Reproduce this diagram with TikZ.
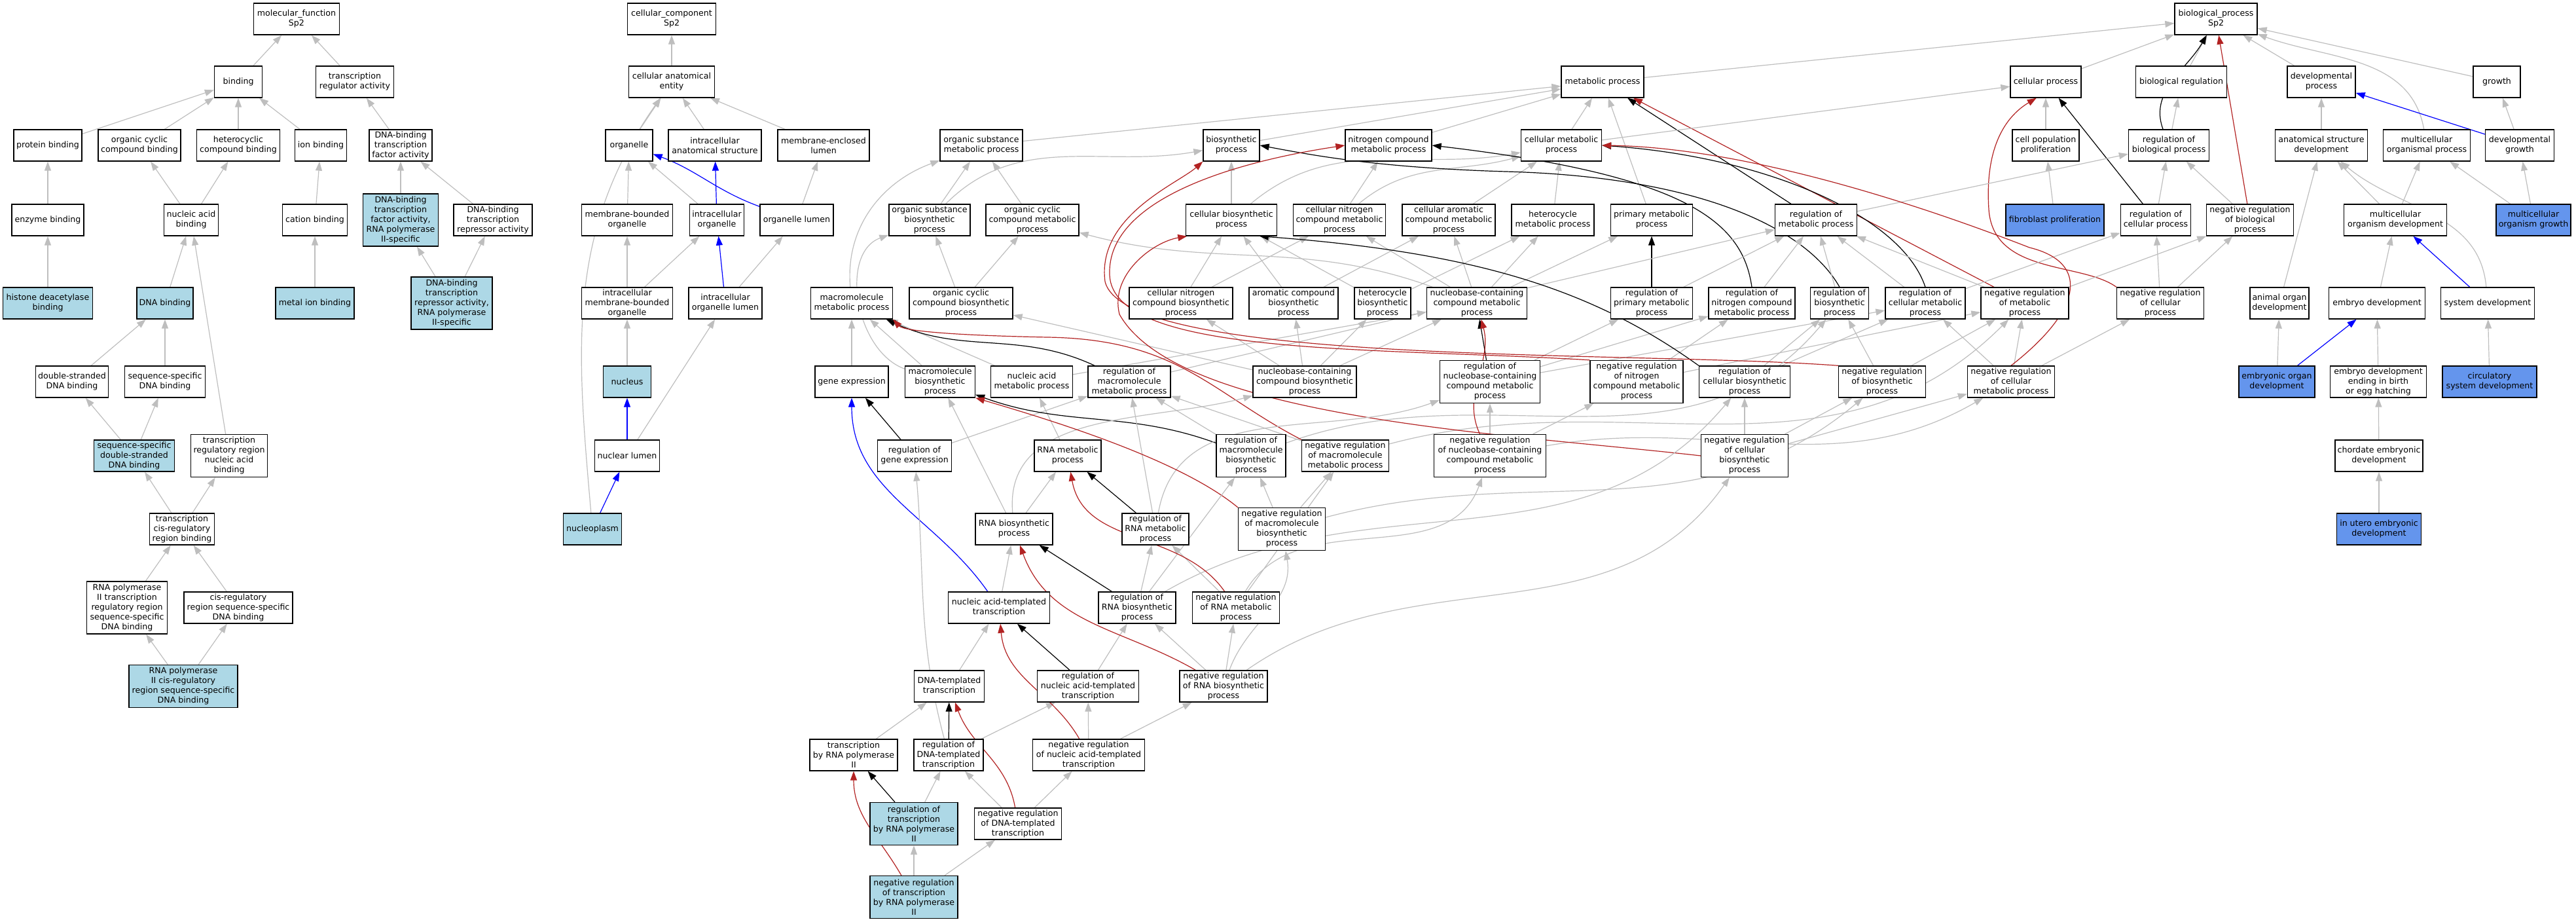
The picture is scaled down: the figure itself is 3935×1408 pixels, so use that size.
\documentclass[tikz,border=0pt]{standalone}
\usepackage{fontspec}
\setmainfont{DejaVu Sans}
\usetikzlibrary{arrows.meta, backgrounds}
\definecolor{edgegray}{RGB}{190,190,190}
\definecolor{hitblue}{RGB}{173,216,230}
\definecolor{hitstrong}{RGB}{100,149,237}
\definecolor{negred}{RGB}{178,34,34}
\newcommand{\termfont}{\fontsize{6.3}{7.5}\selectfont}
\tikzstyle{term} = [rectangle, draw=black, line width=0.65pt, fill=white, align=center, inner sep=1pt, minimum height=24pt, font=\termfont]
\tikzstyle{hit} = [term, fill=hitblue]
\tikzstyle{hitdark} = [term, fill=hitstrong]
\tikzstyle{tall} = [minimum height=32.5pt]
\tikzstyle{taller} = [minimum height=40pt]
\tikzstyle{isa} = [draw=edgegray, line width=0.6pt, -{Triangle[length=7pt,width=5pt]}]
\tikzstyle{regarrow} = [isa, draw=black]
\tikzstyle{negarrow} = [isa, draw=negred]
\tikzstyle{partarrow} = [isa, draw=blue]

\begin{document}
\begin{tikzpicture}[x=0.5pt, y=-0.5pt]
\useasboundingbox (0,0) rectangle (3935,1408);

% molecular function
\node (mf) [term, minimum width=65.5pt] at (453,29) {molecular\_function\\Sp2};
\node (binding) [term, minimum width=36.5pt] at (364,125) {binding};
\node (tra) [term, minimum width=59.5pt] at (542,125) {transcription\\regulator activity};
\node (prot) [term, minimum width=52pt] at (73,222) {protein binding};
\node (occb) [term, minimum width=63pt] at (213,222) {organic cyclic\\compound binding};
\node (hcb) [term, minimum width=63.5pt] at (364,222) {heterocyclic\\compound binding};
\node (ionb) [term, minimum width=39.5pt] at (490,222) {ion binding};
\node (dbtfa) [term, minimum width=48pt] at (612,222) {DNA-binding\\transcription\\factor activity};
\node (enzb) [term, minimum width=55pt] at (73,336) {enzyme binding};
\node (nab) [term, minimum width=41.5pt] at (292,336) {nucleic acid\\binding};
\node (catb) [term, minimum width=49.5pt] at (481,336) {cation binding};
\node (dbtfa2) [hit, taller, minimum width=57.5pt] at (612,336) {DNA-binding\\transcription\\factor activity,\\RNA polymerase\\II-specific};
\node (dbtra) [term, minimum width=60pt] at (753,336) {DNA-binding\\transcription\\repressor activity};
\node (hdb) [hit, minimum width=68.5pt] at (73,463) {histone deacetylase\\binding};
\node (dnab) [hit, minimum width=43pt] at (252,463) {DNA binding};
\node (mib) [hit, minimum width=60pt] at (481,463) {metal ion binding};
\node (dbtra2) [hit, taller, minimum width=62pt] at (690,463) {DNA-binding\\transcription\\repressor activity,\\RNA polymerase\\II-specific};
\node (dsdb) [term, minimum width=55.5pt] at (110,583) {double-stranded\\DNA binding};
\node (ssdb) [term, minimum width=61.5pt] at (252,583) {sequence-specific\\DNA binding};
\node (ssdsdb) [hit, minimum width=61.5pt] at (205,696) {sequence-specific\\double-stranded\\DNA binding};
\node (trrnab) [term, tall, minimum width=58.5pt] at (350,696) {transcription\\regulatory region\\nucleic acid\\binding};
\node (tcrrb) [term, minimum width=49.5pt] at (278,808) {transcription\\cis-regulatory\\region binding};
\node (ptrr) [term, taller, minimum width=61.5pt] at (194,928) {RNA polymerase\\II transcription\\regulatory region\\sequence-specific\\DNA binding};
\node (crrss) [term, minimum width=83pt] at (364,928) {cis-regulatory\\region sequence-specific\\DNA binding};
\node (pcrr) [hit, tall, minimum width=83pt] at (280,1048) {RNA polymerase\\II cis-regulatory\\region sequence-specific\\DNA binding};

% cellular component
\node (cc) [term, minimum width=67.5pt] at (1026,29) {cellular\_component\\Sp2};
\node (cae) [term, minimum width=65.5pt] at (1026,125) {cellular anatomical\\entity};
\node (org) [term, minimum width=36pt] at (961,222) {organelle};
\node (ias) [term, minimum width=71pt] at (1092,222) {intracellular\\anatomical structure};
\node (mel) [term, minimum width=70pt] at (1258,222) {membrane-enclosed\\lumen};
\node (mbo) [term, minimum width=69.5pt] at (958,336) {membrane-bounded\\organelle};
\node (io) [term, minimum width=41.5pt] at (1095,336) {intracellular\\organelle};
\node (ol) [term, minimum width=56pt] at (1217,336) {organelle lumen};
\node (imbo) [term, minimum width=69.5pt] at (958,463) {intracellular\\membrane-bounded\\organelle};
\node (iol) [term, minimum width=56pt] at (1108,463) {intracellular\\organelle lumen};
\node (nucleus) [hit, minimum width=36.5pt] at (958,583) {nucleus};
\node (nl) [term, minimum width=49.5pt] at (958,696) {nuclear lumen};
\node (np) [hit, minimum width=44.5pt] at (905,808) {nucleoplasm};

% biological process
\node (bp) [term, minimum width=63pt] at (3385,29) {biological\_process\\Sp2};
\node (mp) [term, minimum width=63pt] at (2448,125) {metabolic process};
\node (cp) [term, minimum width=54pt] at (3125,125) {cellular process};
\node (breg) [term, minimum width=69.5pt] at (3332,125) {biological regulation};
\node (devp) [term, minimum width=52pt] at (3546,125) {developmental\\process};
\node (growth) [term, minimum width=36pt] at (3814,125) {growth};

\node (osmp) [term, minimum width=63pt] at (1499,222) {organic substance\\metabolic process};
\node (bsp) [term, minimum width=43pt] at (1881,222) {biosynthetic\\process};
\node (nitmp) [term, minimum width=66pt] at (2121,222) {nitrogen compound\\metabolic process};
\node (cmp) [term, minimum width=61.5pt] at (2385,222) {cellular metabolic\\process};
\node (cpp) [term, minimum width=51pt] at (3125,222) {cell population\\proliferation};
\node (rbp) [term, minimum width=61.5pt] at (3313,222) {regulation of\\biological process};
\node (asd) [term, minimum width=70.5pt] at (3546,222) {anatomical structure\\development};
\node (mop) [term, minimum width=66.5pt] at (3707,222) {multicellular\\organismal process};
\node (dg) [term, minimum width=52.5pt] at (3849,222) {developmental\\growth};

\node (osbp) [term, minimum width=62pt] at (1420,336) {organic substance\\biosynthetic\\process};
\node (occmp) [term, minimum width=71pt] at (1577,336) {organic cyclic\\compound metabolic\\process};
\node (cbp) [term, minimum width=69.5pt] at (1881,336) {cellular biosynthetic\\process};
\node (cncmp) [term, minimum width=70.5pt] at (2046,336) {cellular nitrogen\\compound metabolic\\process};
\node (cacmp) [term, minimum width=71pt] at (2213,336) {cellular aromatic\\compound metabolic\\process};
\node (hmp) [term, minimum width=63pt] at (2372,336) {heterocycle\\metabolic process};
\node (pmp) [term, minimum width=62.5pt] at (2523,336) {primary metabolic\\process};
\node (rmp) [term, minimum width=62.5pt] at (2774,336) {regulation of\\metabolic process};
\node (fp) [hitdark, minimum width=75pt] at (3139,336) {fibroblast proliferation};
\node (rcp) [term, minimum width=53.5pt] at (3293,336) {regulation of\\cellular process};
\node (nrbp) [term, minimum width=66.5pt] at (3437,336) {negative regulation\\of biological\\process};
\node (mod) [term, minimum width=78.5pt] at (3659,336) {multicellular\\organism development};
\node (mog) [hitdark, minimum width=57pt] at (3870,336) {multicellular\\organism growth};

\node (mmp) [term, minimum width=62.5pt] at (1301,463) {macromolecule\\metabolic process};
\node (occbp) [term, minimum width=79pt] at (1468,463) {organic cyclic\\compound biosynthetic\\process};
\node (cncbp) [term, minimum width=79pt] at (1804,463) {cellular nitrogen\\compound biosynthetic\\process};
\node (acbp) [term, minimum width=68pt] at (1976,463) {aromatic compound\\biosynthetic\\process};
\node (hbp) [term, minimum width=43pt] at (2112,463) {heterocycle\\biosynthetic\\process};
\node (nccmp) [term, minimum width=76.5pt] at (2256,463) {nucleobase-containing\\compound metabolic\\process};
\node (rpmp) [term, minimum width=62.5pt] at (2523,463) {regulation of\\primary metabolic\\process};
\node (rnmp) [term, minimum width=66pt] at (2676,463) {regulation of\\nitrogen compound\\metabolic process};
\node (rbsp) [term, minimum width=44.5pt] at (2810,463) {regulation of\\biosynthetic\\process};
\node (rcmp) [term, minimum width=61pt] at (2941,463) {regulation of\\cellular metabolic\\process};
\node (nrmp) [term, minimum width=67pt] at (3093,463) {negative regulation\\of metabolic\\process};
\node (nrcp) [term, minimum width=66.5pt] at (3300,463) {negative regulation\\of cellular\\process};
\node (aod) [term, minimum width=45pt] at (3482,463) {animal organ\\development};
\node (ed) [term, minimum width=73.5pt] at (3631,463) {embryo development};
\node (sd) [term, minimum width=71.5pt] at (3800,463) {system development};

\node (ge) [term, minimum width=56pt] at (1301,583) {gene expression};
\node (mbp) [term, minimum width=53.5pt] at (1436,583) {macromolecule\\biosynthetic\\process};
\node (namp) [term, minimum width=62.5pt] at (1576,583) {nucleic acid\\metabolic process};
\node (rmmp) [term, minimum width=63pt] at (1725,583) {regulation of\\macromolecule\\metabolic process};
\node (nccbp) [term, minimum width=79pt] at (1993,583) {nucleobase-containing\\compound biosynthetic\\process};
\node (rnccmp) [term, tall, minimum width=76.5pt] at (2276,583) {regulation of\\nucleobase-containing\\compound metabolic\\process};
\node (nrnmp) [term, tall, minimum width=71pt] at (2500,583) {negative regulation\\of nitrogen\\compound metabolic\\process};
\node (rcbp) [term, minimum width=69.5pt] at (2665,583) {regulation of\\cellular biosynthetic\\process};
\node (nrbsp) [term, minimum width=66.5pt] at (2875,583) {negative regulation\\of biosynthetic\\process};
\node (nrcmp) [term, minimum width=66.5pt] at (3072,583) {negative regulation\\of cellular\\metabolic process};
\node (eod) [hitdark, minimum width=58pt] at (3478,583) {embryonic organ\\development};
\node (edb) [term, minimum width=73.5pt] at (3633,583) {embryo development\\ending in birth\\or egg hatching};
\node (csd) [hitdark, minimum width=72pt] at (3803,583) {circulatory\\system development};

\node (rge) [term, minimum width=56.5pt] at (1397,696) {regulation of\\gene expression};
\node (rnamp) [term, minimum width=51pt] at (1631,696) {RNA metabolic\\process};
\node (rmbp) [term, tall, minimum width=53pt] at (1911,696) {regulation of\\macromolecule\\biosynthetic\\process};
\node (nrmmp) [term, minimum width=66.5pt] at (2055,696) {negative regulation\\of macromolecule\\metabolic process};
\node (nrnccmp) [term, tall, minimum width=85.5pt] at (2276,696) {negative regulation\\of nucleobase-containing\\compound metabolic\\process};
\node (nrcbp) [term, tall, minimum width=66.5pt] at (2665,696) {negative regulation\\of cellular\\biosynthetic\\process};
\node (ced) [term, minimum width=67pt] at (3634,696) {chordate embryonic\\development};

\node (rnabp) [term, minimum width=59pt] at (1549,808) {RNA biosynthetic\\process};
\node (rrmp) [term, minimum width=51pt] at (1765,808) {regulation of\\RNA metabolic\\process};
\node (nrmbp) [term, tall, minimum width=66.5pt] at (1958,808) {negative regulation\\of macromolecule\\biosynthetic\\process};
\node (iued) [hitdark, minimum width=64.5pt] at (3634,808) {in utero embryonic\\development};

\node (natt) [term, minimum width=77.5pt] at (1526,928) {nucleic acid-templated\\transcription};
\node (rrbp) [term, minimum width=59pt] at (1737,928) {regulation of\\RNA biosynthetic\\process};
\node (nrrmp) [term, minimum width=66.5pt] at (1888,928) {negative regulation\\of RNA metabolic\\process};

\node (dtt) [term, minimum width=53.5pt] at (1450,1048) {DNA-templated\\transcription};
\node (rnatt) [term, minimum width=77.5pt] at (1662,1048) {regulation of\\nucleic acid-templated\\transcription};
\node (nrrbp) [term, minimum width=67pt] at (1869,1048) {negative regulation\\of RNA biosynthetic\\process};

\node (tpii) [term, minimum width=67pt] at (1304,1153) {transcription\\by RNA polymerase\\II};
\node (rdtt) [term, minimum width=53pt] at (1449,1153) {regulation of\\DNA-templated\\transcription};
\node (nrnatt) [term, minimum width=85.5pt] at (1663,1153) {negative regulation\\of nucleic acid-templated\\transcription};

\node (rtpii) [hit, tall, minimum width=67pt] at (1396,1258) {regulation of\\transcription\\by RNA polymerase\\II};
\node (nrdtt) [term, minimum width=66.5pt] at (1555,1258) {negative regulation\\of DNA-templated\\transcription};
\node (nrtpii) [hit, tall, minimum width=67pt] at (1396,1370) {negative regulation\\of transcription\\by RNA polymerase\\II};

\begin{scope}[on background layer]
% molecular function edges
\draw [isa] (binding) -- (mf);
\draw [isa] (tra) -- (mf);
\draw [isa] (prot) -- (binding);
\draw [isa] (occb) -- (binding);
\draw [isa] (hcb) -- (binding);
\draw [isa] (ionb) -- (binding);
\draw [isa] (dbtfa) -- (tra);
\draw [isa] (enzb) -- (prot);
\draw [isa] (nab) -- (occb);
\draw [isa] (nab) -- (hcb);
\draw [isa] (catb) -- (ionb);
\draw [isa] (dbtfa2) -- (dbtfa);
\draw [isa] (dbtra) -- (dbtfa);
\draw [isa] (hdb) -- (enzb);
\draw [isa] (dnab) -- (nab);
\draw [isa] (mib) -- (catb);
\draw [isa] (dbtra2) -- (dbtfa2);
\draw [isa] (dbtra2) -- (dbtra);
\draw [isa] (dsdb) -- (dnab);
\draw [isa] (ssdb) -- (dnab);
\draw [isa] (ssdsdb) -- (dsdb);
\draw [isa] (ssdsdb) -- (ssdb);
\draw [isa] (trrnab) -- (nab);
\draw [isa] (tcrrb) -- (ssdsdb);
\draw [isa] (tcrrb) -- (trrnab);
\draw [isa] (ptrr) -- (tcrrb);
\draw [isa] (crrss) -- (tcrrb);
\draw [isa] (pcrr) -- (ptrr);
\draw [isa] (pcrr) -- (crrss);

% cellular component edges
\draw [isa] (cae) -- (cc);
\draw [isa] (org) -- (cae);
\draw [isa] (ias) -- (cae);
\draw [isa] (mel) -- (cae);
\draw [isa] (np) to[out=95, in=235] (cae);
\draw [isa] (mbo) -- (org);
\draw [isa] (io) -- (org);
\draw [partarrow] (io) -- (ias);
\draw [partarrow] (ol) to[out=160, in=-20] (org);
\draw [isa] (ol) -- (mel);
\draw [isa] (imbo) -- (mbo);
\draw [isa] (imbo) -- (io);
\draw [partarrow] (iol) -- (io);
\draw [isa] (iol) -- (ol);
\draw [isa] (nucleus) -- (imbo);
\draw [partarrow] (nl) -- (nucleus);
\draw [isa] (nl) -- (iol);
\draw [partarrow] (np) -- (nl);

% biological process edges
\draw [isa] (mp) -- (bp);
\draw [isa] (cp) -- (bp);
\draw [isa] (breg) -- (bp);
\draw [isa] (devp) -- (bp);
\draw [isa] (growth) -- (bp);
\draw [isa] (mop) to[out=100, in=-20] (bp);
\draw [regarrow] (rbp) to[out=110, in=240] (bp);
\draw [negarrow] (nrbp) -- (bp);
\draw [isa] (osmp) -- (mp);
\draw [isa] (bsp) -- (mp);
\draw [isa] (nitmp) -- (mp);
\draw [isa] (cmp) -- (mp);
\draw [isa] (pmp) -- (mp);
\draw [regarrow] (rmp) -- (mp);
\draw [negarrow] (nrmp) -- (mp);
\draw [isa] (cmp) -- (cp);
\draw [isa] (cpp) -- (cp);
\draw [regarrow] (rcp) -- (cp);
\draw [negarrow] (nrcp.north west) .. controls (3180,400) and (3045,420) .. (3038,320) .. controls (3032,230) and (3060,180) .. (cp.240);
\draw [isa] (rbp) -- (breg);
\draw [isa] (asd) -- (devp);
\draw [partarrow] (dg) -- (devp);
\draw [isa] (dg) -- (growth);
\draw [isa] (osbp) -- (osmp);
\draw [isa] (osbp) to[out=45, in=190] (bsp);
\draw [isa] (occmp) -- (osmp);
\draw [isa] (cbp) -- (bsp);
\draw [isa] (cbp) to[out=40, in=190] (cmp);
\draw [isa] (cncmp) -- (nitmp);
\draw [isa] (cncmp) to[out=40, in=195] (cmp);
\draw [isa] (cacmp) -- (cmp);
\draw [isa] (hmp) -- (cmp);
\draw [isa] (rmp) -- (rbp);
\draw [isa] (rcp) -- (rbp);
\draw [isa] (nrbp) -- (rbp);
\draw [isa] (fp) -- (cpp);
\draw [isa] (mod) -- (asd);
\draw [isa] (mod) -- (mop);
\draw [isa] (mog) -- (dg);
\draw [isa] (mog) -- (mop);
\draw [isa] (mmp) to[out=95, in=200] (osmp);
\draw [isa] (occbp) -- (osbp);
\draw [isa] (occbp) -- (occmp);
\draw [isa] (cncbp) -- (cbp);
\draw [isa] (cncbp) -- (cncmp);
\draw [isa] (acbp) -- (cbp);
\draw [isa] (acbp) -- (cacmp);
\draw [isa] (hbp) -- (cbp);
\draw [isa] (hbp) -- (hmp);
\draw [isa] (nccmp) -- (cncmp);
\draw [isa] (nccmp) -- (cacmp);
\draw [isa] (nccmp) -- (hmp);
\draw [isa] (nccmp) -- (pmp);
\draw [isa] (nccmp) to[out=160, in=-15] (occmp);
\draw [regarrow] (rpmp) -- (pmp);
\draw [regarrow] (rnmp.north) .. controls (2662,340) and (2580,268) .. (nitmp.east);
\draw [regarrow] (rbsp.north) .. controls (2760,350) and (2600,270) .. (2300,262) .. controls (2100,256) and (2000,236) .. (bsp.east);
\draw [regarrow] (rcmp.north) .. controls (2905,330) and (2700,240) .. (cmp.east);
\draw [isa] (rpmp) -- (rmp);
\draw [isa] (rnmp) -- (rmp);
\draw [isa] (rbsp) -- (rmp);
\draw [isa] (rcmp) -- (rmp);
\draw [isa] (nrmp) -- (rmp);
\draw [isa] (rcmp) -- (rcp);
\draw [isa] (nrmp) -- (nrbp);
\draw [isa] (nrcp) -- (rcp);
\draw [isa] (nrcp) -- (nrbp);
\draw [isa] (aod) -- (asd);
\draw [isa] (ed) -- (mod);
\draw [isa] (sd) to[out=95, in=-40] (asd);
\draw [partarrow] (sd) -- (mod);
\draw [isa] (ge) -- (mmp);
\draw [isa] (mbp) -- (mmp);
\draw [isa] (mbp) to[out=160, in=200] (osbp);
\draw [isa] (namp) -- (mmp);
\draw [isa] (namp) -- (nccmp);
\draw [regarrow] (rmmp) to[out=155, in=-25] (mmp);
\draw [isa] (rmmp) -- (rmp);
\draw [isa] (nccbp) -- (cncbp);
\draw [isa] (nccbp) -- (acbp);
\draw [isa] (nccbp) -- (hbp);
\draw [isa] (nccbp) -- (nccmp);
\draw [isa] (nccbp) -- (occbp);
\draw [regarrow] (rnccmp) -- (nccmp);
\draw [isa] (rnccmp) -- (rpmp);
\draw [isa] (rnccmp) -- (rnmp);
\draw [isa] (rnccmp) -- (rcmp);
\draw [isa] (nrnmp) -- (rnmp);
\draw [isa] (nrnmp) -- (nrmp);
\draw [negarrow] (nrnmp.north west) .. controls (2100,530) and (1700,545) .. (1695,420) .. controls (1690,300) and (1900,245) .. (nitmp.west);
\draw [isa] (rcbp) -- (rbsp);
\draw [isa] (rcbp) -- (rcmp);
\draw [regarrow] (rcbp.north west) .. controls (2430,440) and (2250,385) .. (cbp.-30);
\draw [isa] (nrbsp) -- (rbsp);
\draw [isa] (nrbsp) -- (nrmp);
\draw [negarrow] (nrbsp.north west) .. controls (2500,535) and (1720,560) .. (1688,430) .. controls (1675,330) and (1800,280) .. (bsp.south west);
\draw [isa] (nrcmp) -- (nrmp);
\draw [isa] (nrcmp) -- (rcmp);
\draw [isa] (nrcmp) -- (nrcp);
\draw [negarrow] (nrcmp.north) .. controls (3185,470) and (3190,400) .. (3100,378) .. controls (2900,300) and (2650,225) .. (cmp.east);
\draw [isa] (eod) -- (aod);
\draw [partarrow] (eod) -- (ed);
\draw [isa] (edb) -- (ed);
\draw [isa] (csd) -- (sd);
\draw [regarrow] (rge) -- (ge);
\draw [isa] (rge) -- (rmmp);
\draw [isa] (rnamp) -- (namp);
\draw [regarrow] (rmbp) to[out=160, in=-20] (mbp);
\draw [isa] (rmbp) -- (rmmp);
\draw [isa] (rmbp) to[out=20, in=-130] (rbsp);
\draw [isa] (nrmmp) -- (rmmp);
\draw [isa] (nrmmp) to[out=15, in=-135] (nrmp);
\draw [negarrow] (nrmmp.north west) .. controls (1850,600) and (1800,518) .. (1600,515) .. controls (1450,512) and (1380,505) .. (mmp.south east);
\draw [isa] (nrnccmp) -- (rnccmp);
\draw [isa] (nrnccmp) -- (nrnmp);
\draw [isa] (nrnccmp) to[out=10, in=-150] (nrcmp);
\draw [negarrow] (nrnccmp) to[out=115, in=-75] (nccmp);
\draw [isa] (nrcbp) -- (rcbp);
\draw [isa] (nrcbp) -- (nrbsp);
\draw [isa] (nrcbp) -- (nrcmp);
\draw [negarrow] (nrcbp.west) .. controls (2300,662) and (1800,640) .. (1710,480) .. controls (1695,420) and (1760,370) .. (cbp.200);
\draw [isa] (ced) -- (edb);
\draw [isa] (rnabp) -- (rnamp);
\draw [isa] (rnabp) -- (mbp);
\draw [isa] (rnabp) to[out=95, in=195] (nccbp);
\draw [regarrow] (rrmp) -- (rnamp);
\draw [isa] (rrmp) -- (rmmp);
\draw [isa] (rrmp) to[out=80, in=200] (rnccmp);
\draw [isa] (nrmbp) -- (rmbp);
\draw [isa] (nrmbp) -- (nrmmp);
\draw [isa] (nrmbp) to[out=15, in=-140] (nrbsp);
\draw [negarrow] (nrmbp.north west) .. controls (1800,700) and (1600,640) .. (mbp.south east);
\draw [isa] (iued) -- (ced);
\draw [isa] (natt) -- (rnabp);
\draw [partarrow] (natt) to[out=125, in=-90] (ge);
\draw [regarrow] (rrbp) -- (rnabp);
\draw [isa] (rrbp) -- (rrmp);
\draw [isa] (rrbp) -- (rmbp);
\draw [isa] (rrbp) to[out=30, in=-130] (rcbp);
\draw [isa] (nrrmp) -- (rrmp);
\draw [isa] (nrrmp) -- (nrmmp);
\draw [isa] (nrrmp) to[out=60, in=-110] (nrnccmp);
\draw [negarrow] (nrrmp) to[out=125, in=-80] (rnamp);
\draw [isa] (dtt) -- (natt);
\draw [regarrow] (rnatt) -- (natt);
\draw [isa] (rnatt) -- (rrbp);
\draw [isa] (nrrbp) -- (rrbp);
\draw [isa] (nrrbp) -- (nrrmp);
\draw [isa] (nrrbp) to[out=70, in=-80] (nrmbp);
\draw [isa] (nrrbp) to[out=35, in=-125] (nrcbp);
\draw [negarrow] (nrrbp) to[out=150, in=-70] (rnabp);
\draw [isa] (tpii) -- (dtt);
\draw [regarrow] (rdtt) -- (dtt);
\draw [isa] (rdtt) -- (rnatt);
\draw [isa] (rdtt) to[out=105, in=-85] (rge);
\draw [isa] (nrnatt) -- (rnatt);
\draw [isa] (nrnatt) -- (nrrbp);
\draw [negarrow] (nrnatt) to[out=120, in=-85] (natt);
\draw [regarrow] (rtpii) -- (tpii);
\draw [isa] (rtpii) -- (rdtt);
\draw [isa] (nrdtt) -- (rdtt);
\draw [isa] (nrdtt) -- (nrnatt);
\draw [negarrow] (nrdtt) to[out=100, in=-70] (dtt);
\draw [isa] (nrtpii) -- (rtpii);
\draw [isa] (nrtpii) -- (nrdtt);
\draw [negarrow] (nrtpii) to[out=120, in=-90] (tpii);
\end{scope}

\end{tikzpicture}
\end{document}
